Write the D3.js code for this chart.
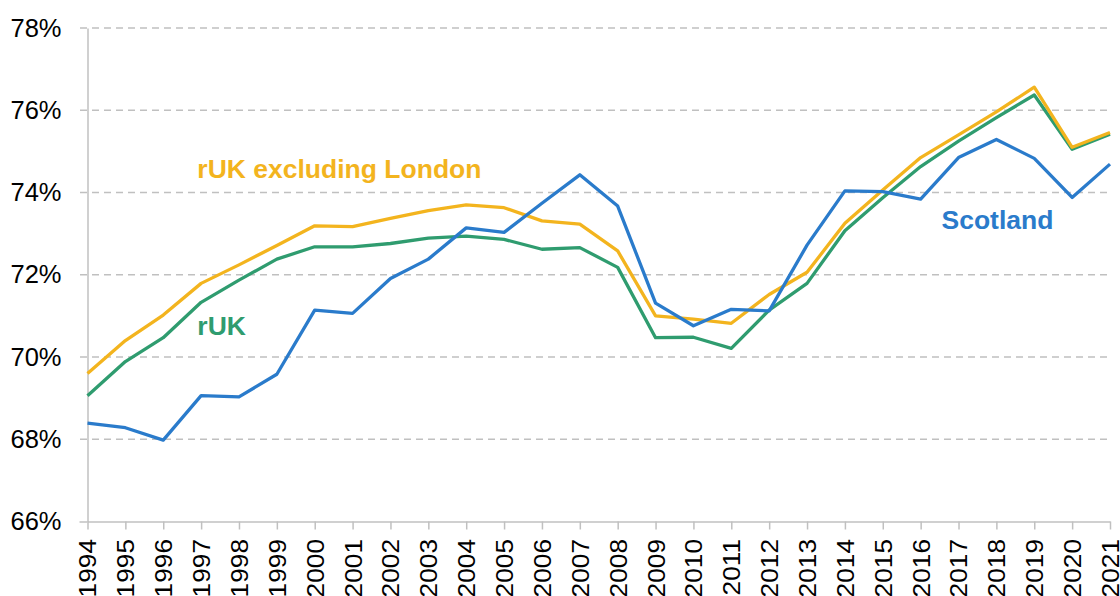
<!DOCTYPE html>
<html>
<head>
<meta charset="utf-8">
<script src="https://cdn.jsdelivr.net/npm/d3@7"></script>
<style>
  body { margin: 0; background: #fff; }
  svg { display: block; font-family: "Liberation Sans", Arial, sans-serif; }
</style>
</head>
<body>
<svg width="1120" height="596"></svg>
<script>
// chart data
var years = d3.range(1994, 2022);

var scotland = [68.39, 68.28, 67.98, 69.06, 69.03, 69.58, 71.14, 71.06, 71.91, 72.38,
  73.14, 73.03, 73.74, 74.43, 73.67, 71.31, 70.76, 71.16, 71.12, 72.72,
  74.04, 74.02, 73.84, 74.85, 75.29, 74.83, 73.88, 74.69];

var rUK = [69.06, 69.89, 70.47, 71.33, 71.87, 72.38, 72.68, 72.68, 72.76, 72.89,
  72.94, 72.86, 72.62, 72.66, 72.18, 70.47, 70.48, 70.21, 71.14, 71.79,
  73.07, 73.87, 74.63, 75.25, 75.82, 76.37, 75.05, 75.42];

var rUKexLondon = [69.60, 70.40, 71.02, 71.79, 72.24, 72.71, 73.19, 73.17, 73.37, 73.56,
  73.70, 73.63, 73.31, 73.23, 72.58, 71.00, 70.92, 70.82, 71.52, 72.06,
  73.25, 74.06, 74.85, 75.40, 75.96, 76.56, 75.10, 75.46];

var yTicks = [66, 68, 70, 72, 74, 76, 78];

var series = [
  {name: "rUK", values: rUK, color: "#2f9c6f", label: [1996.9, 70.53]},
  {name: "rUK excluding London", values: rUKexLondon, color: "#f3b41e", label: [1996.9, 74.35]},
  {name: "Scotland", values: scotland, color: "#2a7bcb", label: [2016.55, 73.11]}
];

var svg = d3.select("svg");

var x = d3.scaleLinear().domain([1994, 2021]).range([87.5, 1110]);
var y = d3.scaleLinear().domain([66, 78]).range([521.5, 28]);

// dashed gridlines
svg.append("g")
    .attr("class", "grid")
  .selectAll("line")
  .data(yTicks.slice(1))
  .enter().append("line")
    .attr("x1", 80)
    .attr("x2", 1111)
    .attr("y1", function(d) { return y(d); })
    .attr("y2", function(d) { return y(d); })
    .attr("stroke", "#c0c0c0")
    .attr("stroke-width", 1.5)
    .attr("stroke-dasharray", "7,5");

// y axis
var yAxis = svg.append("g")
    .attr("transform", "translate(87.5,0)")
    .call(d3.axisLeft(y)
      .tickValues(yTicks)
      .tickSize(8)
      .tickSizeOuter(0)
      .tickPadding(18)
      .tickFormat(function(d) { return d + "%"; }));

yAxis.selectAll("line").attr("stroke", "#c0c0c0").attr("stroke-width", 1.5)
    .attr("opacity", function(d) { return d == 66 ? 1 : 0; });
yAxis.select(".domain").attr("stroke", "#c0c0c0").attr("stroke-width", 1.5);
yAxis.selectAll("text")
    .attr("fill", "#000")
    .style("font-size", "25.5px")
    .style("font-family", "'Liberation Sans', Arial, sans-serif");

// x axis
var xAxis = svg.append("g")
    .attr("transform", "translate(0," + y(66) + ")")
    .call(d3.axisBottom(x)
      .tickValues(years)
      .tickSize(8)
      .tickSizeOuter(0)
      .tickFormat(d3.format("d")));

xAxis.selectAll("line").attr("stroke", "#c0c0c0").attr("stroke-width", 1.5);
xAxis.select(".domain").attr("stroke", "#c0c0c0").attr("stroke-width", 1.5);
// year labels are slightly stretched along their length in the original
xAxis.selectAll("text")
    .attr("fill", "#000")
    .attr("transform", "rotate(-90) scale(1.12,1)")
    .attr("x", -15.5)
    .attr("y", 0)
    .attr("dy", "0.36em")
    .style("text-anchor", "end")
    .style("font-size", "23.5px")
    .style("font-family", "'Liberation Sans', Arial, sans-serif");

// lines
var line = d3.line()
    .x(function(d, i) { return x(years[i]); })
    .y(function(d) { return y(d); });

svg.append("g")
    .attr("class", "lines")
  .selectAll("path")
  .data(series)
  .enter().append("path")
    .attr("d", function(d) { return line(d.values); })
    .attr("fill", "none")
    .attr("stroke", function(d) { return d.color; })
    .attr("stroke-width", 3.3)
    .attr("stroke-linejoin", "round");

// series labels
svg.append("g")
    .attr("class", "labels")
  .selectAll("text")
  .data(series)
  .enter().append("text")
    .attr("x", function(d) { return x(d.label[0]); })
    .attr("y", function(d) { return y(d.label[1]); })
    .attr("fill", function(d) { return d.color; })
    .style("font-size", "26.5px")
    .style("font-weight", "bold")
    .text(function(d) { return d.name; });
</script>
</body>
</html>
